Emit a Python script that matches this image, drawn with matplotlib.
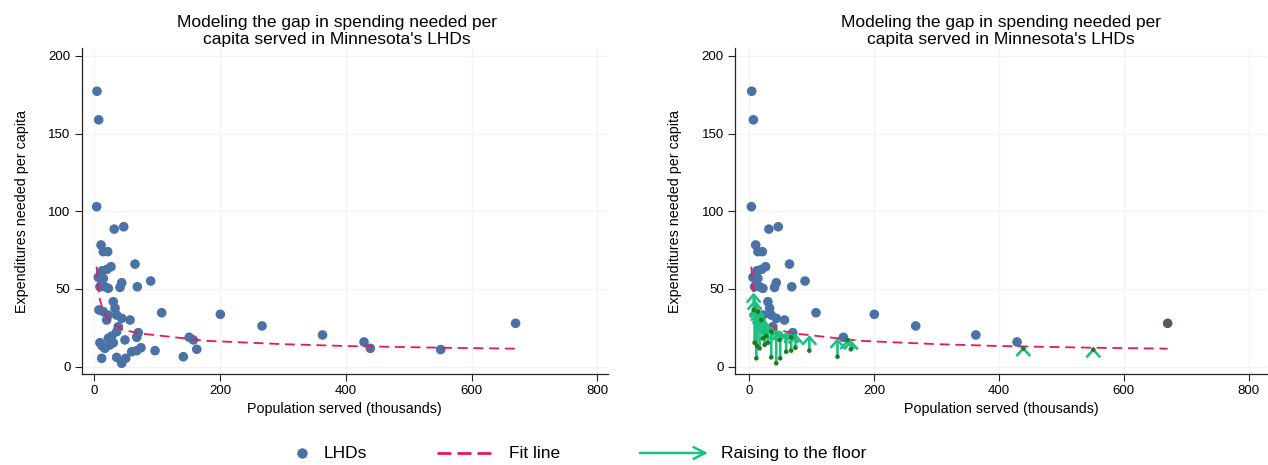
import numpy as np
import matplotlib
matplotlib.use('Agg')
import matplotlib.pyplot as plt
from matplotlib.lines import Line2D
from matplotlib.patches import FancyArrowPatch

plt.rcParams['font.family'] = ['Liberation Sans', 'DejaVu Sans']

# LHDs: population served (thousands) and expenditures needed per capita
pop = [4.3, 7, 3.8, 31.8, 46.8, 10.7, 14.3, 21.3, 64.8, 12.7, 20.2, 26.6,
       6.4, 14.3, 17, 22.3, 43.6, 40.9, 89.7, 68.4, 9, 30.2, 7.5, 14.3,
       33, 35.6, 22.3, 19.7, 43.6, 56.8, 107.2, 38.2, 35.6, 70, 67.5, 27.7,
       22.3, 9, 12.7, 17, 25, 30.2, 48.8, 59.5, 67.5, 74.3, 96.6, 11.8,
       35.6, 43.6, 50, 200.5, 266.8, 363, 429, 439, 551, 670, 141.6, 151,
       157.5, 163]
spend = [177.2, 158.8, 102.9, 88.5, 90, 78.3, 74, 74, 66, 61.7, 62.6, 64.3,
         57.5, 56.8, 51.4, 50.4, 54, 51, 55.1, 51.4, 51.4, 41.8, 36.5, 35.4,
         37.6, 33.2, 33.2, 30, 31.1, 30, 34.7, 25.7, 22.5, 21.9, 18.9, 19.7,
         18.2, 15.4, 13.3, 11.8, 14, 15.4, 17.2, 9.6, 10.3, 12.2, 10.3, 5.4,
         6, 2.2, 5.4, 33.7, 26.2, 20.4, 15.9, 11.8, 11, 27.9, 6.4, 18.9,
         17.2, 11.2]

# fit line
fit_x = [3.8, 6, 9, 14, 20, 30, 44, 70, 126, 180, 300, 400, 550, 670]
fit_y = [64.3, 52, 43, 36, 32, 27.5, 24, 21.5, 19, 16.6, 14.5, 13.3, 12.2, 11.6]

BLUE = '#4a72a6'
RED = '#e8175d'
GREEN = '#1dbf82'
DKGREEN = '#1e7b1e'

pop = np.array(pop)
spend = np.array(spend)
floor = np.interp(pop, fit_x, fit_y)
below = spend < floor

fig = plt.figure(figsize=(12.68, 4.65), dpi=100)
fig.patch.set_facecolor('white')
ax1 = fig.add_axes([81.7 / 1268, 1 - 374.3 / 465, 526.3 / 1268, 326.3 / 465])
ax2 = fig.add_axes([735 / 1268, 1 - 374.3 / 465, 532 / 1268, 326.3 / 465])

title = "Modeling the gap in spending needed per\ncapita served in Minnesota's LHDs"


def style(ax, xlo, xhi, tx):
    ax.set_xlim(xlo, xhi)
    ax.set_ylim(-4.9, 205)
    ax.set_xticks([0, 200, 400, 600, 800])
    ax.set_yticks([0, 50, 100, 150, 200])
    ax.tick_params(labelsize=9.5, length=5, width=0.8, color='#222', pad=3)
    for s in ['top', 'right']:
        ax.spines[s].set_visible(False)
    for s in ['left', 'bottom']:
        ax.spines[s].set_color('#222')
        ax.spines[s].set_linewidth(0.9)
    ax.grid(True, color='#f3f3f3', lw=1)
    ax.set_axisbelow(True)
    ax.set_xlabel('Population served (thousands)', fontsize=10.3, labelpad=3)
    ax.set_ylabel('Expenditures needed per capita', fontsize=10.3, labelpad=14)
    ax.set_title(title, fontsize=12.5, x=tx, pad=3, linespacing=1.12)


# left panel
ax1.scatter(pop, spend, s=48, color=BLUE, edgecolors='none', zorder=3)
ax1.plot(fit_x, fit_y, color=RED, lw=1.3, dashes=(5.5, 3.2), zorder=4)
style(ax1, -20, 817, 0.485)

# right panel
keep = ~below
cols = np.where(pop[keep] == pop.max(), '#4f5d63', BLUE)
ax2.scatter(pop[keep], spend[keep], s=48, c=list(cols), edgecolors='none', zorder=3)
ax2.plot(fit_x, fit_y, color=RED, lw=1.3, dashes=(5.5, 3.2), zorder=4)
for x0, y0, y1 in zip(pop[below], spend[below], floor[below]):
    ax2.annotate('', xy=(x0, y1), xytext=(x0, y0),
                 arrowprops=dict(arrowstyle='->,head_length=0.5,head_width=0.45',
                                 color=GREEN, lw=1.9, shrinkA=0, shrinkB=0),
                 zorder=5)
ax2.scatter(pop[below], spend[below], s=11, color=DKGREEN, edgecolors='none', zorder=6)
style(ax2, -22.4, 829, 0.5)

# legend along the bottom
ly = 1 - 453 / 465
fig.add_artist(Line2D([302 / 1268], [ly], marker='o', ms=7.5,
                      color=BLUE, mec='none', transform=fig.transFigure))
fig.text(324 / 1268, ly, 'LHDs', fontsize=12.5, va='center')
fig.add_artist(Line2D([437 / 1268, 493 / 1268], [ly] * 2, color=RED,
                      lw=2, dashes=(5, 2.2), transform=fig.transFigure))
fig.text(509 / 1268, ly, 'Fit line', fontsize=12.5, va='center')
fig.add_artist(FancyArrowPatch(
    (640 / 1268, ly), (708 / 1268, ly), transform=fig.transFigure,
    arrowstyle='->,head_length=0.6,head_width=0.3', mutation_scale=14,
    color=GREEN, lw=1.8, shrinkA=0, shrinkB=0))
fig.text(721 / 1268, ly, 'Raising to the floor', fontsize=12.5, va='center')

fig.savefig('out.png', dpi=100, facecolor='white')
